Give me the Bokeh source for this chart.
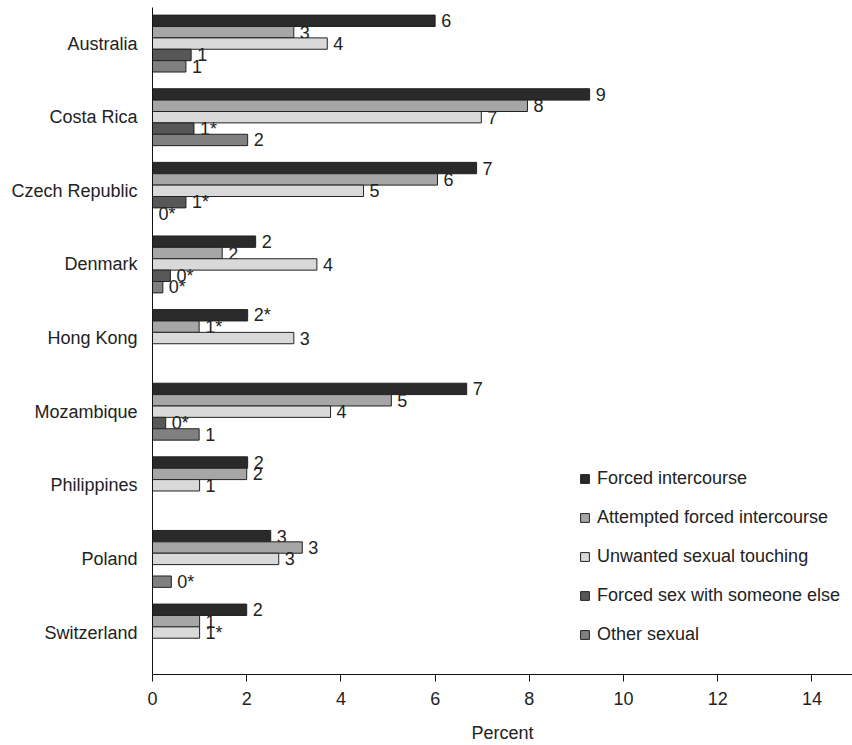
import math
from bokeh.plotting import figure
from bokeh.models import ColumnDataSource, Range1d, FixedTicker, Legend, LegendItem
from bokeh.core.properties import value
from bokeh.transform import dodge
from bokeh.embed import file_html
from bokeh.resources import INLINE

countries = ["Australia", "Costa Rica", "Czech Republic", "Denmark", "Hong Kong",
             "Mozambique", "Philippines", "Poland", "Switzerland"]

series_names = ["Forced intercourse", "Attempted forced intercourse",
                "Unwanted sexual touching", "Forced sex with someone else", "Other sexual"]

nan = float("nan")
forced_intercourse = [6.0, 9.28, 6.88, 2.19, 2.02, 6.67, 2.02, 2.51, 2.0]
attempted_forced = [3.0, 7.96, 6.05, 1.48, 0.99, 5.07, 2.0, 3.18, 1.0]
unwanted_touching = [3.71, 6.98, 4.48, 3.49, 3.0, 3.78, 1.0, 2.68, 1.0]
forced_someone_else = [0.82, 0.88, 0.71, 0.38, nan, 0.28, nan, nan, nan]
other_sexual = [0.71, 2.02, 0.0, 0.22, nan, 0.99, nan, 0.4, nan]

labels_fi = ["6", "9", "7", "2", "2*", "7", "2", "3", "2"]
labels_afi = ["3", "8", "6", "2", "1*", "5", "2", "3", "1"]
labels_ust = ["4", "7", "5", "4", "3", "4", "1", "3", "1*"]
labels_fse = ["1", "1*", "1*", "0*", "", "0*", "", "", ""]
labels_os = ["1", "2", "0*", "0*", "", "1", "", "0*", ""]

x_ticks = [0, 2, 4, 6, 8, 10, 12, 14]

colors = ["#2a2a2a", "#a6a6a6", "#d9d9d9", "#575757", "#808080"]

all_values = [forced_intercourse, attempted_forced, unwanted_touching, forced_someone_else, other_sexual]
all_labels = [labels_fi, labels_afi, labels_ust, labels_fse, labels_os]

FONT = "Liberation Sans"
FS = "18px"

p = figure(width=852, height=745, output_backend="svg", toolbar_location=None,
           x_range=Range1d(0, 14.86), y_range=Range1d(8.57, -0.49),
           min_border_left=152, min_border_right=0, min_border_top=7, min_border_bottom=69)
p.outline_line_color = None
p.xgrid.visible = False
p.ygrid.visible = False

bar_h = 0.1546
legend_items = []
for j, (vals, labs) in enumerate(zip(all_values, all_labels)):
    off = (j - 2) * bar_h
    ys = list(range(len(countries)))
    src = ColumnDataSource(dict(y=ys, v=vals))
    r = p.hbar(y=dodge("y", off), left=0, right="v", height=bar_h, source=src,
               fill_color=colors[j], line_color="#222222", line_width=1)
    legend_items.append(LegendItem(label=series_names[j], renderers=[r]))
    tx, ty, tt = [], [], []
    for i, (v, lab) in enumerate(zip(vals, labs)):
        if lab:
            tx.append(0 if math.isnan(v) else v)
            ty.append(i)
            tt.append(lab)
    tsrc = ColumnDataSource(dict(x=tx, y=ty, t=tt))
    p.text(x="x", y=dodge("y", off), text="t", source=tsrc, x_offset=6,
           text_font=value(FONT), text_font_size=FS, text_color="#222222",
           text_baseline="middle", text_align="left")

legend = Legend(items=legend_items, location=(427, 29), orientation="vertical")
legend.background_fill_alpha = 0
legend.border_line_color = None
legend.padding = 0
legend.margin = 0
legend.spacing = 18
legend.glyph_width = 11
legend.glyph_height = 11
legend.label_height = 20
legend.label_standoff = 7
legend.label_text_font = FONT
legend.label_text_font_size = FS
legend.label_text_color = "#222222"
p.add_layout(legend, "center")

# y axis
p.yaxis.ticker = FixedTicker(ticks=list(range(len(countries))))
p.yaxis.major_label_overrides = {i: c for i, c in enumerate(countries)}
p.yaxis.major_tick_out = 0
p.yaxis.major_tick_in = 0
p.yaxis.minor_tick_line_color = None
p.yaxis.axis_line_color = "#111111"
p.yaxis.major_label_standoff = 15
p.yaxis.major_label_text_font = FONT
p.yaxis.major_label_text_font_size = FS
p.yaxis.major_label_text_color = "#222222"

# x axis
p.xaxis.ticker = FixedTicker(ticks=x_ticks)
p.xaxis.minor_tick_line_color = None
p.xaxis.major_tick_out = 7
p.xaxis.major_tick_in = 0
p.xaxis.axis_line_color = "#111111"
p.xaxis.major_tick_line_color = "#111111"
p.xaxis.major_label_standoff = 10
p.xaxis.major_label_text_font = FONT
p.xaxis.major_label_text_font_size = FS
p.xaxis.major_label_text_color = "#222222"
p.xaxis.axis_label = "Percent"
p.xaxis.axis_label_standoff = 15
p.xaxis.axis_label_text_font = FONT
p.xaxis.axis_label_text_font_size = FS
p.xaxis.axis_label_text_font_style = "normal"
p.xaxis.axis_label_text_color = "#222222"

open("out.html", "w").write(file_html(p, INLINE))
